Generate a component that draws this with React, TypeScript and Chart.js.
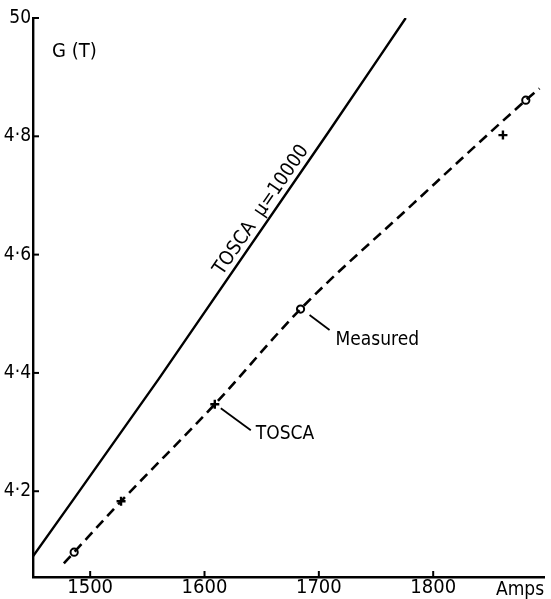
import React, { useEffect, useRef } from 'react';
import { Chart, registerables } from 'chart.js';

Chart.register(...registerables);

const FONT = "'DejaVu Sans Condensed', 'DejaVu Sans', sans-serif";

// Axis ranges
const X_MIN = 1450;
const X_MAX = 1897;
const Y_MIN = 4.055;
const Y_MAX = 5.0;

// Ticks
const xTicks = [1500, 1600, 1700, 1800];
const xTickLabels = ['1500', '1600', '1700', '1800'];
const yTicks = [4.2, 4.4, 4.6, 4.8, 5.0];
const yTickLabels = ['4·2', '4·4', '4·6', '4·8', '50'];

// TOSCA mu=10000 curve (solid)
const muAmps = [1450, 1560, 1708, 1776];
const muG = [4.09, 4.39, 4.806, 5.0];

// Dashed curve through measurements
const fitAmps = [1477, 1486, 1527, 1609, 1684, 1783, 1881, 1893];
const fitG = [4.078, 4.097, 4.183, 4.347, 4.508, 4.687, 4.861, 4.881];

// Measured points (circles)
const measAmps = [1486, 1684, 1881];
const measG = [4.097, 4.508, 4.861];

// TOSCA points (crosses)
const toscaAmps = [1527, 1609, 1861];
const toscaG = [4.183, 4.347, 4.802];

const pts = (xs: number[], ys: number[]) => xs.map((x, i) => ({ x, y: ys[i] }));

const annotPlugin = {
  id: 'annot',
  afterDatasetsDraw(chart: any) {
    const ctx = chart.ctx as CanvasRenderingContext2D;
    const { left, top, right, bottom } = chart.chartArea;
    const xs = chart.scales.x;
    const ys = chart.scales.y;
    ctx.save();
    ctx.strokeStyle = '#000';
    ctx.fillStyle = '#000';
    ctx.lineWidth = 2;
    const line = (x1: number, y1: number, x2: number, y2: number) => {
      ctx.beginPath();
      ctx.moveTo(x1, y1);
      ctx.lineTo(x2, y2);
      ctx.stroke();
    };
    // inward tick marks
    yTicks.forEach((v) => {
      const p = ys.getPixelForValue(v);
      line(left, p, left + 6, p);
    });
    xTicks.forEach((v) => {
      const p = xs.getPixelForValue(v);
      line(p, bottom, p, bottom - 6);
    });
    // axis titles
    ctx.font = `20px ${FONT}`;
    ctx.textAlign = 'left';
    ctx.textBaseline = 'middle';
    ctx.fillText('G (T)', left + 19, top + 34);
    ctx.font = `19px ${FONT}`;
    ctx.textAlign = 'right';
    ctx.fillText('Amps', right, bottom + 13);

    // rotated label along solid curve
    const m = chart.getDatasetMeta(0).data;
    const a = m[1];
    const b = m[2];
    const ang = Math.atan2(b.y - a.y, b.x - a.x);
    const t = 0.66;
    const cx = a.x + (b.x - a.x) * t;
    const cy = a.y + (b.y - a.y) * t;
    ctx.save();
    ctx.translate(cx, cy);
    ctx.rotate(ang);
    ctx.textAlign = 'center';
    ctx.textBaseline = 'middle';
    ctx.font = `19.5px ${FONT}`;
    ctx.fillText('TOSCA  μ=10000', 0, -11);
    ctx.restore();

    // Measured label
    const mp = chart.getDatasetMeta(2).data[1];
    ctx.lineWidth = 1.8;
    line(mp.x + 9, mp.y + 6, mp.x + 29, mp.y + 21);
    ctx.textAlign = 'left';
    ctx.textBaseline = 'middle';
    ctx.font = `19px ${FONT}`;
    ctx.fillText('Measured', mp.x + 35, mp.y + 31);

    // TOSCA label
    const tp = chart.getDatasetMeta(3).data[1];
    line(tp.x + 6, tp.y + 4, tp.x + 36, tp.y + 26);
    ctx.fillText('TOSCA', tp.x + 41, tp.y + 30);

    ctx.restore();
  },
};

export default function App() {
  const ref = useRef<HTMLCanvasElement | null>(null);
  useEffect(() => {
    if (!ref.current) return;
    const chart = new Chart(ref.current, {
      type: 'scatter',
      data: {
        datasets: [
          {
            label: 'TOSCA μ=10000',
            data: pts(muAmps, muG),
            showLine: true,
            borderColor: '#000',
            borderWidth: 2.4,
            pointRadius: 0,
            cubicInterpolationMode: 'monotone',
          },
          {
            label: 'fit',
            data: pts(fitAmps, fitG),
            showLine: true,
            borderColor: '#000',
            borderWidth: 2.6,
            borderDash: [10, 6],
            pointRadius: 0,
            cubicInterpolationMode: 'monotone',
          },
          {
            label: 'Measured',
            data: pts(measAmps, measG),
            showLine: false,
            pointStyle: 'circle',
            pointRadius: 3.6,
            pointBorderWidth: 2,
            pointBorderColor: '#000',
            pointBackgroundColor: '#fff',
          },
          {
            label: 'TOSCA',
            data: pts(toscaAmps, toscaG),
            showLine: false,
            pointStyle: 'cross',
            pointRadius: 4.5,
            pointBorderWidth: 2.4,
            pointBorderColor: '#000',
            pointBackgroundColor: '#000',
          },
        ],
      },
      options: {
        animation: false,
        responsive: false,
        devicePixelRatio: 1,
        layout: { padding: { top: 18, right: 3, left: 0, bottom: 0 } },
        plugins: { legend: { display: false }, tooltip: { enabled: false } },
        scales: {
          x: {
            type: 'linear',
            min: X_MIN,
            max: X_MAX,
            grid: { display: false, drawTicks: false },
            border: { display: true, color: '#000', width: 2.4 },
            afterBuildTicks: (s: any) => {
              s.ticks = xTicks.map((v) => ({ value: v }));
            },
            afterFit: (s: any) => {
              s.height = 22;
            },
            ticks: {
              color: '#000',
              font: { family: FONT, size: 20, lineHeight: 1 },
              padding: 1,
              maxRotation: 0,
              autoSkip: false,
              callback: (_v: any, i: number) => xTickLabels[i],
            },
          },
          y: {
            type: 'linear',
            min: Y_MIN,
            max: Y_MAX,
            grid: { display: false, drawTicks: false },
            border: { display: true, color: '#000', width: 2.4 },
            afterBuildTicks: (s: any) => {
              s.ticks = yTicks.map((v) => ({ value: v }));
            },
            afterFit: (s: any) => {
              s.width = 33;
            },
            ticks: {
              color: '#000',
              font: { family: FONT, size: 19 },
              padding: 2,
              autoSkip: false,
              callback: (_v: any, i: number) => yTickLabels[i],
            },
          },
        },
      },
      plugins: [annotPlugin],
    } as any);
    return () => chart.destroy();
  }, []);
  return (
    <div style={{ position: 'fixed', left: 0, top: 0, width: 551, height: 599, background: '#fff' }}>
      <canvas ref={ref} width={551} height={599} style={{ width: 551, height: 599 }} />
    </div>
  );
}
